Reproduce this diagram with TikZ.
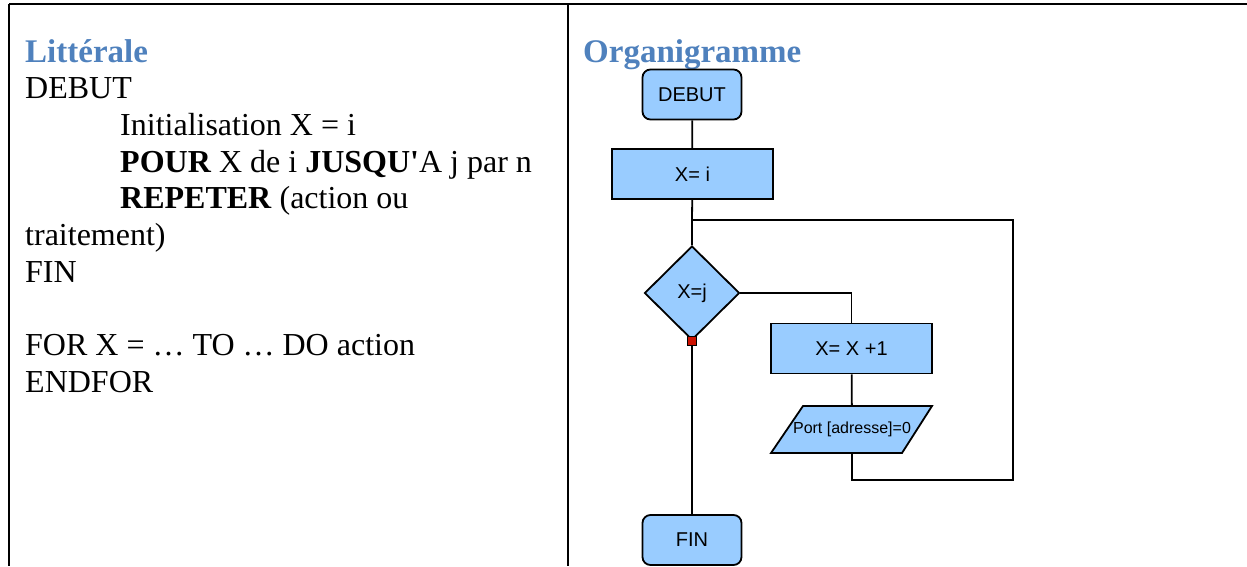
\documentclass[tikz,border=0pt]{standalone}
\usepackage{fontspec}
\setmainfont{Liberation Serif}
\newfontfamily\chartfont{Liberation Sans}
\usetikzlibrary{shapes.geometric}
\definecolor{headblue}{HTML}{4F81BD}
\definecolor{boxblue}{HTML}{99CCFF}
\definecolor{dotred}{HTML}{CC1100}
\tikzset{
  txt/.style={anchor=base west, inner sep=0pt, font=\fontsize{32}{37}\selectfont},
  head/.style={anchor=base west, inner sep=0pt, text=headblue, font=\fontsize{33}{40}\selectfont\bfseries},
  rule/.style={line width=1.8pt},
  fc/.style={draw=black, line width=1.8pt, fill=boxblue, inner sep=0pt, font=\chartfont\fontsize{20}{24}\selectfont},
  term/.style={fc, rectangle, rounded corners=8pt, minimum width=99pt, minimum height=50pt},
  proc/.style={fc, rectangle, minimum width=161pt, minimum height=50pt},
  decision/.style={fc, diamond, minimum width=95pt, minimum height=94pt},
  link/.style={line width=1.8pt},
}
\begin{document}
\begin{tikzpicture}[x=1pt,y=-1pt]
\useasboundingbox (0,0) rectangle (1247,566);
% table rules
\coordinate (tl) at (9,4);
\coordinate (tr) at (1247,4);
\coordinate (bl) at (9,566);
\coordinate (mt) at (568,4);
\coordinate (mb) at (568,566);
\draw[rule] (tl) -- (tr);
\draw[rule] (tl) -- (bl);
\draw[rule] (mt) -- (mb);
% left column
\node[head] (h1) at (25,62) {Littérale};
\node[txt] (l1) at (25,98) {DEBUT};
\node[txt] (l2) at (120,135) {Initialisation X = i};
\node[txt] (l3) at (120,172) {\textbf{POUR} X de i \textbf{JUSQU\textquotesingle}A j par n};
\node[txt] (l4) at (120,208) {\textbf{REPETER} (action ou};
\node[txt] (l5) at (25,245) {traitement)};
\node[txt] (l6) at (25,282) {FIN};
\node[txt] (l7) at (25,355) {FOR X = … TO … DO action};
\node[txt] (l8) at (25,392) {ENDFOR};
% right column
\node[head] (h2) at (583,62) {Organigramme};
\node[term] (debut) at (692,94.5) {DEBUT};
\node[proc] (xi) at (692.5,174) {X= i};
\coordinate (junc) at (692,220);
\node[decision] (dia) at (692,293) {X=j};
\node[proc] (xx1) at (851.5,348.5) {X= X +1};
\fill[boxblue] (803,406) -- (932,406) -- (902,453) -- (771,453) -- cycle;
\draw[line width=1.8pt, line join=miter] (803,406) -- (932,406) -- (902,453) -- (771,453) -- cycle;
\node[inner sep=0pt, minimum width=130pt, minimum height=47pt, font=\chartfont\fontsize{16}{19}\selectfont] (para) at (852,429.5) {Port [adresse]=0};
\coordinate (loopc) at (1013,480);
\node[term] (fin) at (692,540) {FIN};
% connectors
\draw[link] (debut) -- (xi);
\draw[link] (xi) -- (junc) -- (dia.north);
\draw[link] (junc) -| (loopc) -| (para.south);
\draw[link] (dia.east) -| (xx1.north);
\draw[link] (xx1) -- (para);
\node[draw=black, line width=0.8pt, fill=dotred, inner sep=0pt, minimum size=9pt] (dot) at (692,341) {};
\draw[link] (dot) -- (fin);
\end{tikzpicture}
\end{document}
